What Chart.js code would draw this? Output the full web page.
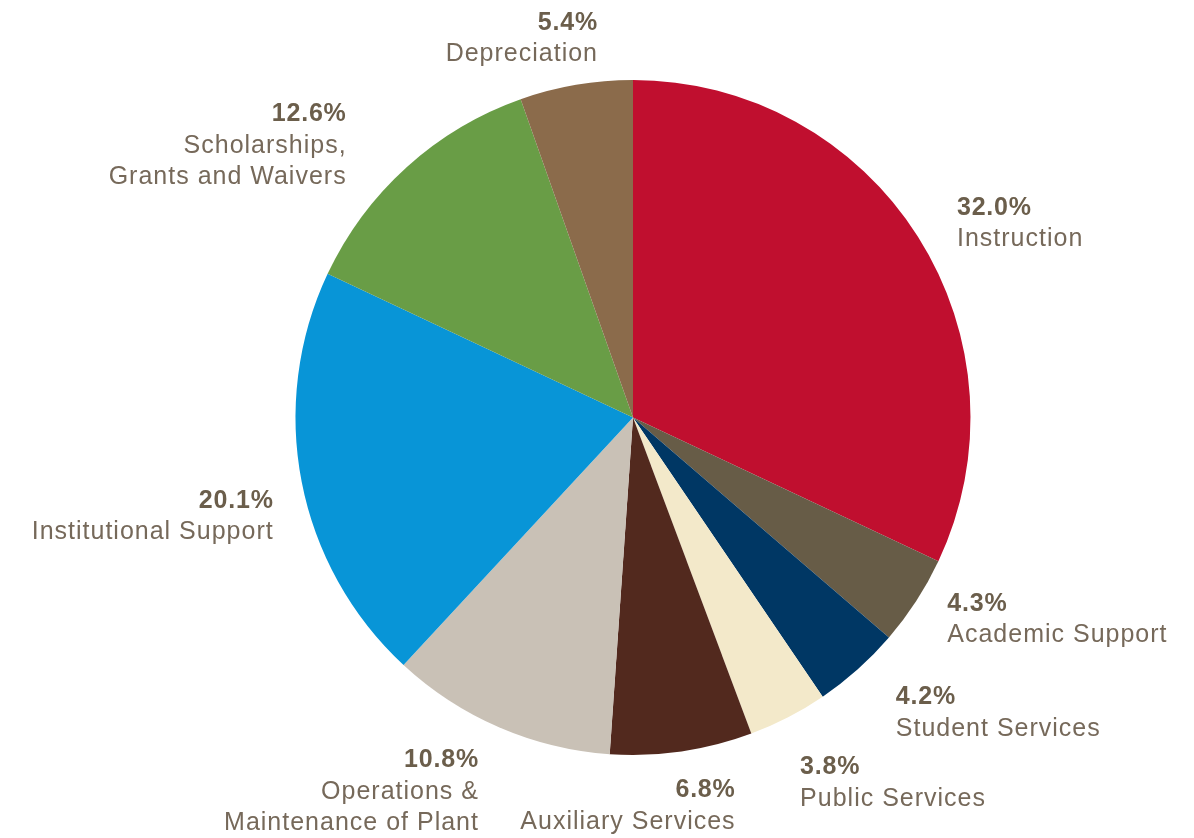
<!DOCTYPE html>
<html>
<head>
<meta charset="utf-8">
<script src="https://cdn.jsdelivr.net/npm/chart.js@4.4.0/dist/chart.umd.min.js"></script>
<style>
  html, body { margin: 0; padding: 0; background: #fff; }
  #wrap { width: 1194px; height: 838px; position: relative; }
</style>
</head>
<body>
<div id="wrap"><canvas id="myChart"></canvas></div>
<script>
const categories = [
  ['Instruction'],
  ['Academic Support'],
  ['Student Services'],
  ['Public Services'],
  ['Auxiliary Services'],
  ['Operations &', 'Maintenance of Plant'],
  ['Institutional Support'],
  ['Scholarships,', 'Grants and Waivers'],
  ['Depreciation']
]
const shares = [32.0, 4.3, 4.2, 3.8, 6.8, 10.8, 20.1, 12.6, 5.4]
const sliceColors = ['#C00F2F', '#675C47', '#003764', '#F3E9CA', '#52291E', '#C9C1B6', '#0895D7', '#699D46', '#8B6B4B']

// label placement relative to the outer edge of each slice at its middle angle
const labelLayout = [
  { align: 'left', dx: 39, dy: -29 },
  { align: 'left', dx: 31, dy: 3 },
  { align: 'left', dx: 38, dy: 28 },
  { align: 'left', dx: 12, dy: 50 },
  { align: 'right', dx: 53, dy: 39 },
  { align: 'right', dx: -21, dy: 33 },
  { align: 'right', dx: -29, dy: 19 },
  { align: 'right', dx: -61, dy: -53 },
  { align: 'right', dx: 21, dy: -62 }
]

const outsideLabels = {
  id: 'outsideLabels',
  afterDatasetsDraw(chart) {
    const c = chart.ctx
    const arcs = chart.getDatasetMeta(0).data
    c.save()
    c.textBaseline = 'middle'
    arcs.forEach((arc, i) => {
      const mid = (arc.startAngle + arc.endAngle) / 2
      const ex = arc.x + Math.cos(mid) * arc.outerRadius
      const ey = arc.y + Math.sin(mid) * arc.outerRadius
      const lay = labelLayout[i]
      // letter spacing adds trailing space on right aligned text, shift to compensate
      const x = ex + lay.dx + (lay.align === 'right' ? 1 : 0)
      let y = ey + lay.dy
      c.textAlign = lay.align
      c.letterSpacing = '0.8px'
      c.fillStyle = '#6B5E4B'
      c.font = 'bold 25px "Liberation Sans", Arial, sans-serif'
      c.fillText(shares[i].toFixed(1) + '%', x, y)
      c.letterSpacing = '1px'
      c.fillStyle = '#76695A'
      c.font = '25px "Liberation Sans", Arial, sans-serif'
      categories[i].forEach(line => {
        y += 31.5
        c.fillText(line, x, y)
      })
    })
    c.restore()
  }
}

new Chart(document.getElementById('myChart'), {
  type: 'pie',
  data: {
    labels: categories.map(l => l.join(' ')),
    datasets: [{
      data: shares,
      backgroundColor: sliceColors,
      borderWidth: 0
    }]
  },
  options: {
    responsive: true,
    maintainAspectRatio: false,
    animation: false,
    layout: { padding: { top: 80, bottom: 83, left: 295, right: 223 } },
    plugins: {
      legend: { display: false },
      tooltip: { enabled: false }
    }
  },
  plugins: [outsideLabels]
})
</script>
</body>
</html>
